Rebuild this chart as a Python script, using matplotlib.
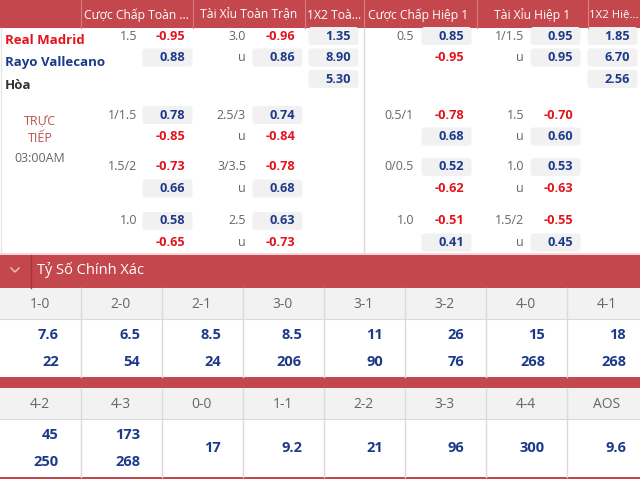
import matplotlib
matplotlib.use("Agg")
import matplotlib.pyplot as plt
from matplotlib.patches import Rectangle, FancyBboxPatch

plt.rcParams["font.family"] = ["Open Sans", "DejaVu Sans"]

# ---- data ----
header_labels = ["Cược Chấp Toàn ...", "Tài Xỉu Toàn Trận", "1X2 Toà...",
                 "Cược Chấp Hiệp 1", "Tài Xỉu Hiệp 1", "1X2 Hiệ..."]
teams = ["Real Madrid", "Rayo Vallecano", "Hòa"]
live_label = ["TRỰC", "TIẾP"]
kickoff = "03:00AM"

ft_hdp_lines = ["1.5", "1/1.5", "1.5/2", "1.0"]
ft_hdp_odds = [[-0.95, 0.88], [0.78, -0.85], [-0.73, 0.66], [0.58, -0.65]]
ft_ou_lines = ["3.0", "2.5/3", "3/3.5", "2.5"]
ft_ou_odds = [[-0.96, 0.86], [0.74, -0.84], [-0.78, 0.68], [0.63, -0.73]]
ft_1x2 = [1.35, 8.90, 5.30]
h1_hdp_lines = ["0.5", "0.5/1", "0/0.5", "1.0"]
h1_hdp_odds = [[0.85, -0.95], [-0.78, 0.68], [0.52, -0.62], [-0.51, 0.41]]
h1_ou_lines = ["1/1.5", "1.5", "1.0", "1.5/2"]
h1_ou_odds = [[0.95, 0.95], [-0.70, 0.60], [0.53, -0.63], [-0.55, 0.45]]
h1_1x2 = [1.85, 6.70, 2.56]

section_title = "Tỷ Số Chính Xác"
scores_a = ["1-0", "2-0", "2-1", "3-0", "3-1", "3-2", "4-0", "4-1"]
home_a = ["7.6", "6.5", "8.5", "8.5", "11", "26", "15", "18"]
away_a = ["22", "54", "24", "206", "90", "76", "268", "268"]
scores_b = ["4-2", "4-3", "0-0", "1-1", "2-2", "3-3", "4-4", "AOS"]
home_b = ["45", "173", "17", "9.2", "21", "96", "300", "9.6"]
away_b = ["250", "268", None, None, None, None, None, None]

# ---- style ----
RED_BAR = "#C4474E"
RED_TXT = "#E3131B"
BLUE_TXT = "#1D3A8A"
GRAY_TXT = "#666666"
BOX = "#F1F1F1"
LINE = "#DADADA"

fig = plt.figure(figsize=(6.4, 4.79), dpi=100)
ax = fig.add_axes([0, 0, 1, 1])
ax.set_xlim(0, 640)
ax.set_ylim(479, 0)
ax.axis("off")


def rect(x, y, w, h, color, z=0):
    ax.add_patch(Rectangle((x, y), w, h, facecolor=color, edgecolor="none", zorder=z))


def odd(v, x, y):
    if v > 0:
        ax.add_patch(FancyBboxPatch((x - 41, y - 7.5), 47, 15, boxstyle="round,pad=1.5,rounding_size=3",
                                    facecolor=BOX, edgecolor="none", zorder=1))
    ax.text(x, y, f"{v:.2f}", ha="right", va="center", fontsize=9.2, fontweight="bold",
            color=BLUE_TXT if v > 0 else RED_TXT, zorder=2)


# header
rect(0, 0, 640, 28, RED_BAR)
hdr_edges = [81, 193, 305, 364, 477, 588, 640]
hdr_x = [84, 199, 307, 368, 520, 589]
for i, lab in enumerate(header_labels):
    ha = "left"
    x = hdr_x[i]
    if i in (1, 4):
        ha = "center"
        x = (hdr_edges[i] + hdr_edges[i + 1]) / 2
    ax.text(x, 15, lab, ha=ha, va="center", fontsize=8.7 if i < 5 else 8.2, color="white")
for e in hdr_edges[:-1]:
    ax.plot([e, e], [0, 28], color="#D77F84", lw=0.8)

# body divider
ax.plot([364, 364], [28, 253], color=LINE, lw=1)
ax.plot([0.5, 0.5], [28, 253], color="#E6E6E6", lw=1)

team_y = [40, 62, 85]
team_cols = [RED_TXT, BLUE_TXT, "#333333"]
for t, yy, c in zip(teams, team_y, team_cols):
    ax.text(5, yy, t, ha="left", va="center", fontsize=9.5, fontweight="bold", color=c)

ax.text(40, 121, live_label[0], ha="center", va="center", fontsize=9, color="#C0504D")
ax.text(40, 139, live_label[1], ha="center", va="center", fontsize=9, color="#C0504D")
ax.text(40, 158, kickoff, ha="center", va="center", fontsize=9, color=GRAY_TXT)

block_y = [36, 115, 167, 221]
step = 21.5
for b in range(4):
    y0 = block_y[b]
    ys = [y0, y0 + step]
    ax.text(137, y0, ft_hdp_lines[b], ha="right", va="center", fontsize=9, color=GRAY_TXT)
    ax.text(246, y0, ft_ou_lines[b], ha="right", va="center", fontsize=9, color=GRAY_TXT)
    ax.text(246, ys[1], "u", ha="right", va="center", fontsize=9, color=GRAY_TXT)
    ax.text(414, y0, h1_hdp_lines[b], ha="right", va="center", fontsize=9, color=GRAY_TXT)
    ax.text(524, y0, h1_ou_lines[b], ha="right", va="center", fontsize=9, color=GRAY_TXT)
    ax.text(524, ys[1], "u", ha="right", va="center", fontsize=9, color=GRAY_TXT)
    for k in range(2):
        odd(ft_hdp_odds[b][k], 185, ys[k])
        odd(ft_ou_odds[b][k], 295, ys[k])
        odd(h1_hdp_odds[b][k], 464, ys[k])
        odd(h1_ou_odds[b][k], 573, ys[k])
for k in range(3):
    odd(ft_1x2[k], 351, block_y[0] + k * step)
    odd(h1_1x2[k], 630, block_y[0] + k * step)

# correct score section
rect(0, 253, 640, 2, "#F6D5D6")
rect(0, 255, 640, 33, RED_BAR)
ax.plot([31, 31], [255, 288], color="#A9363D", lw=1)
ax.plot([11, 15, 19], [268, 272, 268], color="#F1C4C6", lw=1)
ax.text(37, 270, section_title, ha="left", va="center", fontsize=10.5, color="white")

cw = 81


def score_table(top, labels, homes, aways):
    rect(0, top, 640, 31, "#F2F2F2")
    ax.plot([0, 640], [top + 31, top + 31], color=LINE, lw=0.8)
    for i, lab in enumerate(labels):
        x0 = i * cw
        if i > 0:
            ax.plot([x0, x0], [top, top + 89], color=LINE, lw=1)
        ax.text(x0 + 39.5, top + 16, lab, ha="center", va="center", fontsize=10, color=GRAY_TXT)
        if aways[i] is None:
            ax.text(x0 + 59, top + 60, homes[i], ha="right", va="center", fontsize=10.5,
                    fontweight="bold", color=BLUE_TXT)
        else:
            ax.text(x0 + 59, top + 47, homes[i], ha="right", va="center", fontsize=10.5,
                    fontweight="bold", color=BLUE_TXT)
            ax.text(x0 + 59, top + 74, aways[i], ha="right", va="center", fontsize=10.5,
                    fontweight="bold", color=BLUE_TXT)


score_table(288, scores_a, home_a, away_a)
rect(0, 377, 640, 11, RED_BAR)
score_table(388, scores_b, home_b, away_b)
rect(0, 477, 640, 2, RED_BAR)

fig.savefig("out.png", dpi=100)
